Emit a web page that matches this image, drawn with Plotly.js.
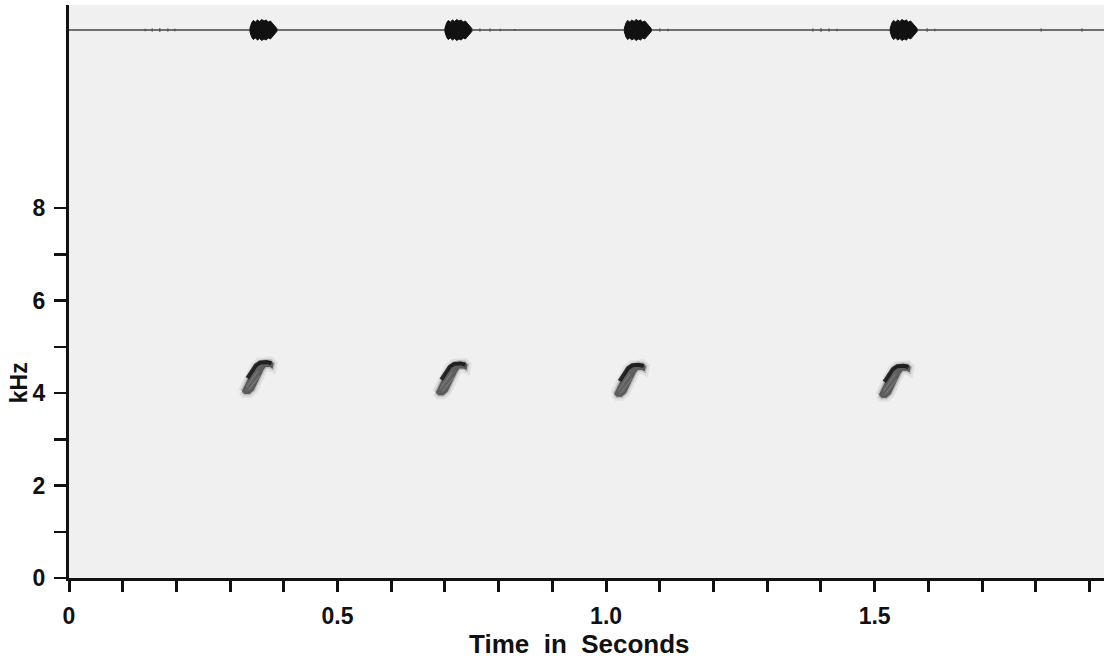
<!DOCTYPE html>
<html>
<head>
<meta charset="utf-8">
<script src="https://cdn.plot.ly/plotly-3.0.1.min.js"></script>
<style>
html,body{margin:0;padding:0;background:#fff;}
#chart{width:1114px;height:660px;}
</style>
</head>
<body>
<div id="chart"></div>
<script>
// ---- data ----
const xTickVals = [0, 0.1, 0.2, 0.3, 0.4, 0.5, 0.6, 0.7, 0.8, 0.9, 1.0, 1.1, 1.2, 1.3, 1.4, 1.5, 1.6, 1.7, 1.8, 1.9];
const xTickText = ['0', '', '', '', '', '0.5', '', '', '', '', '1.0', '', '', '', '', '1.5', '', '', '', ''];
const yTickVals = [0, 1, 2, 3, 4, 5, 6, 7, 8];
const yTickText = ['0', '', '2', '', '4', '', '6', '', '8'];

// spectrogram syllables: start time (s) and frequency shift (kHz)
const syllableStart = [0.322, 0.683, 1.015, 1.508];
const syllableShift = [0.06, 0.03, 0.0, -0.02];
// outline of one syllable (time offset s, frequency kHz)
const shapeDt  = [0.000, 0.008, 0.016, 0.024, 0.032, 0.044, 0.054, 0.059, 0.057, 0.052, 0.044, 0.040, 0.034, 0.028, 0.022, 0.014, 0.005];
const shapeKHz = [3.98, 4.18, 4.38, 4.54, 4.62, 4.65, 4.64, 4.58, 4.47, 4.50, 4.50, 4.44, 4.30, 4.14, 4.00, 3.92, 3.92];
// dark upper band of a syllable
const edgeDt  = [0.010, 0.018, 0.026, 0.034, 0.046, 0.055];
const edgeKHz = [4.26, 4.42, 4.54, 4.60, 4.61, 4.58];
// lighter streaks inside a syllable
const streakDt  = [[0.008, 0.030], [0.012, 0.034]];
const streakKHz = [[4.06, 4.42], [4.00, 4.32]];

// oscillogram bursts on top trace
const burstStart = [0.337, 0.700, 1.034, 1.529];
const envDt  = [0, 0.003, 0.006, 0.010, 0.014, 0.018, 0.022, 0.026, 0.030, 0.034, 0.038, 0.042, 0.046, 0.050];
const envAmp = [2, 7, 9.5, 8, 10, 8.5, 10.5, 9, 10, 8, 9, 7, 4, 1.5];
const noiseTimes = [0.142, 0.155, 0.169, 0.184, 0.197, 0.765, 0.784, 0.803, 0.830, 1.100, 1.115, 1.385, 1.400, 1.415, 1.430, 1.598, 1.612, 1.810, 1.886];
const noiseAmps  = [1.2, 1.5, 1.8, 1.5, 1.2, 1.6, 1.4, 1.2, 1.0, 1.5, 1.3, 1.4, 1.8, 1.5, 1.2, 1.6, 1.3, 1.5, 1.5];
const xMax = 1.927;
const yMax = 12.39;

// ---- traces ----
const traces = [];
syllableStart.forEach((t0, i) => {
  const sh = syllableShift[i];
  const xs = shapeDt.map(d => t0 + d);
  const ys = shapeKHz.map(f => f + sh);
  xs.push(xs[0]); ys.push(ys[0]);
  traces.push({
    type: 'scatter', mode: 'lines', x: xs, y: ys, fill: 'toself',
    fillcolor: 'rgba(70,70,70,0.55)',
    line: {color: 'rgba(90,90,90,0.10)', width: 8},
    hoverinfo: 'skip', showlegend: false
  });
  traces.push({
    type: 'scatter', mode: 'lines', x: xs, y: ys, fill: 'toself',
    fillcolor: 'rgba(50,50,50,0.5)',
    line: {color: 'rgba(70,70,70,0.25)', width: 3},
    hoverinfo: 'skip', showlegend: false
  });
  streakDt.forEach((sd, k) => {
    traces.push({
      type: 'scatter', mode: 'lines',
      x: sd.map(d => t0 + d), y: streakKHz[k].map(f => f + sh),
      line: {color: 'rgba(150,150,150,0.45)', width: 1.2},
      hoverinfo: 'skip', showlegend: false
    });
  });
  traces.push({
    type: 'scatter', mode: 'lines',
    x: edgeDt.map(d => t0 + d), y: edgeKHz.map(f => f + sh),
    line: {color: 'rgba(20,20,20,0.85)', width: 4},
    hoverinfo: 'skip', showlegend: false
  });
});

// oscillogram baseline
traces.push({
  type: 'scatter', mode: 'lines', x: [0, xMax], y: [0, 0], yaxis: 'y2',
  line: {color: '#444', width: 1.5}, hoverinfo: 'skip', showlegend: false
});
// noise specks
const nx = [], ny = [];
noiseTimes.forEach((t, i) => { nx.push(t, t, null); ny.push(-noiseAmps[i], noiseAmps[i], null); });
traces.push({
  type: 'scatter', mode: 'lines', x: nx, y: ny, yaxis: 'y2',
  line: {color: '#555', width: 1.5}, hoverinfo: 'skip', showlegend: false
});
// bursts
burstStart.forEach((t0) => {
  const xs = envDt.map(d => t0 + d).concat(envDt.slice().reverse().map(d => t0 + d));
  const ys = envAmp.slice().concat(envAmp.slice().reverse().map(a => -a));
  xs.push(xs[0]); ys.push(ys[0]);
  traces.push({
    type: 'scatter', mode: 'lines', x: xs, y: ys, yaxis: 'y2', fill: 'toself',
    fillcolor: '#111', line: {color: '#111', width: 1},
    hoverinfo: 'skip', showlegend: false
  });
});

const fam = '"Liberation Sans", Arial, sans-serif';
const layout = {
  width: 1114, height: 660,
  margin: {l: 69, r: 10, t: 5, b: 82},
  paper_bgcolor: '#ffffff',
  plot_bgcolor: '#f0f0f0',
  showlegend: false,
  font: {family: fam, color: '#111'},
  xaxis: {
    range: [0, xMax], showgrid: false, zeroline: false,
    showline: true, linecolor: '#111', linewidth: 3,
    ticks: 'outside', ticklen: 11, tickwidth: 3, tickcolor: '#111',
    tickmode: 'array', tickvals: xTickVals, ticktext: xTickText,
    tickfont: {family: fam, size: 23, color: '#111', weight: 'bold'},
    ticklabelstandoff: 4
  },
  yaxis: {
    range: [0, yMax], showgrid: false, zeroline: false,
    showline: true, linecolor: '#111', linewidth: 3,
    ticks: 'outside', ticklen: 12, tickwidth: 2.5, tickcolor: '#111',
    tickmode: 'array', tickvals: yTickVals, ticktext: yTickText,
    tickfont: {family: fam, size: 23, color: '#111', weight: 'bold'},
    ticklabelstandoff: 4
  },
  yaxis2: {
    domain: [0.9215, 0.9913], range: [-20, 20], anchor: 'x',
    visible: false, showgrid: false, zeroline: false
  },
  annotations: [
    {text: '<b>Time\u00a0\u00a0in\u00a0\u00a0Seconds</b>', xref: 'paper', yref: 'paper',
     x: 0.4937, y: 0, yshift: -66, xanchor: 'center', yanchor: 'middle',
     showarrow: false, font: {family: fam, size: 26, color: '#111'}},
    {text: '<b>kHz</b>', xref: 'paper', yref: 'paper', textangle: -90,
     x: -0.0483, y: 0.340, xanchor: 'center', yanchor: 'middle',
     showarrow: false, font: {family: fam, size: 23, color: '#111'}}
  ]
};

Plotly.newPlot('chart', traces, layout, {displayModeBar: false, staticPlot: true});
</script>
</body>
</html>
